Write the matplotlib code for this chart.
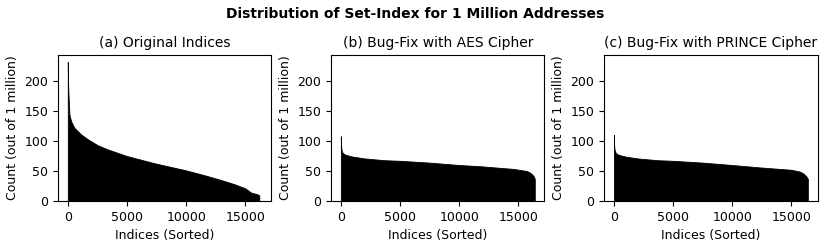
import numpy as np
import matplotlib
matplotlib.use('Agg')
import matplotlib.pyplot as plt

n_sets = 16384

# sorted counts, (sorted index, count)
orig_idx = [0, 15, 56, 140, 280, 560, 1125, 1690, 2530, 3380, 5000, 7315,
            10000, 11540, 12940, 14070, 15000, 15480, 16040, 16180]
orig_cnt = [232, 200, 178, 144, 133, 122, 111, 103, 93, 86, 75, 63,
            51, 43, 35, 28, 21, 14, 11, 9]

aes_idx = [0, 8, 20, 60, 150, 400, 1000, 2000, 3700, 5000, 7500, 10000,
           11765, 13000, 14580, 15710, 16000, 16270, 16383]
aes_cnt = [108, 100, 92, 85, 80, 77, 74, 71, 68, 67, 64, 60,
           58, 56, 53.5, 50, 47, 42, 37]

prince_idx = [0, 8, 20, 60, 150, 400, 1000, 2000, 3700, 5000, 7500, 10000,
              12320, 15000, 15700, 16000, 16250, 16383]
prince_cnt = [110, 100, 92, 85, 80, 77, 74, 71, 68, 67, 64, 60,
              56, 52, 49, 46, 41, 37]

titles = ['(a) Original Indices', '(b) Bug-Fix with AES Cipher',
          '(c) Bug-Fix with PRINCE Cipher']
series = [(orig_idx, orig_cnt), (aes_idx, aes_cnt), (prince_idx, prince_cnt)]

fig, axes = plt.subplots(1, 3, figsize=(8.3, 2.49), dpi=100)
fig.subplots_adjust(left=0.07, right=0.985, bottom=0.193, top=0.779, wspace=0.28)
fig.suptitle('Distribution of Set-Index for 1 Million Addresses',
             fontsize=10, fontweight='bold', y=0.97)

ymax = max(orig_cnt) * 1.05
for ax, (x, y), t in zip(axes, series, titles):
    ax.fill_between(x, y, 0, color='black', linewidth=0.6, edgecolor='black')
    ax.set_xlim(-0.05 * n_sets, 1.05 * n_sets)
    ax.set_ylim(0, ymax)
    ax.set_xticks([0, 5000, 10000, 15000])
    ax.set_yticks([0, 50, 100, 150, 200])
    ax.set_title(t, fontsize=10)
    ax.set_xlabel('Indices (Sorted)', fontsize=9)
    ax.set_ylabel('Count (out of 1 million)', fontsize=9)
    ax.tick_params(labelsize=9)

fig.savefig('out.png', dpi=100)
